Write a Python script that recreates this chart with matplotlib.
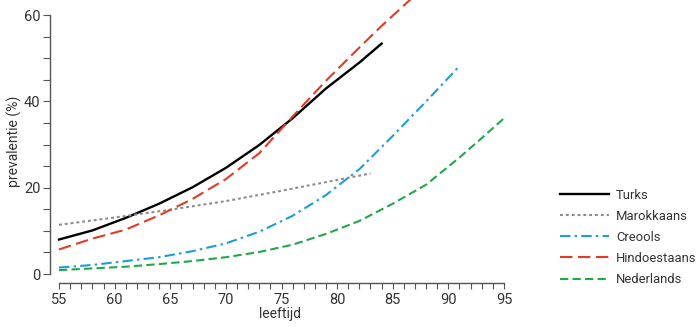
import matplotlib
matplotlib.use("Agg")
from matplotlib import pyplot
from matplotlib.ticker import MultipleLocator

# prevalence (%) by age, per group
turks_age = [55, 58, 61, 64, 67, 70, 73, 76, 79, 82, 84]
turks = [8.0, 10.1, 13.0, 16.3, 20.1, 24.6, 29.9, 36.1, 43.0, 49.0, 53.4]

marokkaans_age = [55, 60, 65, 70, 75, 80, 83]
marokkaans = [11.4, 13.1, 14.9, 16.9, 19.3, 21.8, 23.3]

creools_age = [55, 58, 61, 64, 67, 70, 73, 76, 79, 82, 85, 88, 91]
creools = [1.5, 2.1, 3.0, 3.9, 5.3, 7.1, 9.8, 13.5, 18.3, 24.3, 32.0, 40.0, 48.2]

hindoestaans_age = [55, 58, 61, 64, 67, 70, 73, 76, 79, 82, 84, 87]
hindoestaans = [5.7, 8.2, 10.3, 13.6, 17.4, 22.0, 28.0, 36.5, 44.8, 52.5, 57.5, 64.6]

nederlands_age = [55, 58, 61, 64, 67, 70, 73, 76, 79, 82, 85, 88, 91, 93, 95]
nederlands = [0.9, 1.3, 1.7, 2.3, 3.0, 3.9, 5.1, 6.8, 9.3, 12.3, 16.3, 20.7, 27.0, 31.5, 36.1]

text_color = "#333333"
axis_color = "#555555"

pyplot.rcParams['font.family'] = ['Roboto', 'DejaVu Sans']

fig = pyplot.figure(figsize=(7, 3.27), dpi=100)
ax = fig.add_axes([50/700, 44/327, 460/700, 283/327])

lw = 1.5
ax.plot(turks_age, turks, color="black", lw=1.7, label="Turks")
ax.plot(marokkaans_age, marokkaans, color="#8c8c8c", lw=lw,
        dashes=(1.4, 1.4), label="Marokkaans")
ax.plot(creools_age, creools, color="#1d9ed6", lw=lw,
        dashes=(5, 2, 1.2, 2), label="Creools")
ax.plot(hindoestaans_age, hindoestaans, color="#e03c28", lw=lw,
        dashes=(6, 2.6), label="Hindoestaans")
ax.plot(nederlands_age, nederlands, color="#22a84a", lw=lw,
        dashes=(4, 2), label="Nederlands")

ax.set_xlim(54.19, 95.54)
ax.set_ylim(-2.08, 63.5)

for side in ("top", "right"):
    ax.spines[side].set_visible(False)
ax.spines["left"].set_bounds(0, 60)
ax.spines["bottom"].set_bounds(55, 95)
for side in ("left", "bottom"):
    ax.spines[side].set_color(axis_color)
    ax.spines[side].set_linewidth(1.0)

ax.xaxis.set_major_locator(MultipleLocator(5))
ax.xaxis.set_minor_locator(MultipleLocator(1))
ax.yaxis.set_major_locator(MultipleLocator(20))
ax.yaxis.set_minor_locator(MultipleLocator(5))
ax.tick_params(axis="both", which="both", direction="out", color=axis_color,
               width=0.8, labelcolor=text_color, labelsize=10.5)
ax.tick_params(axis="y", which="both", length=5, pad=2)
ax.tick_params(axis="x", which="both", length=4.5, pad=3)

ax.set_xlabel("leeftijd", color=text_color, fontsize=10, labelpad=0)
ax.set_ylabel("prevalentie (%)", color=text_color, fontsize=10, labelpad=1)

leg = fig.legend(loc="upper left", bbox_to_anchor=(548/700, 1 - 177/327),
                 frameon=False, handlelength=3.8, handletextpad=0.5,
                 labelspacing=0.62, fontsize=9.4)
for t in leg.get_texts():
    t.set_color(text_color)

fig.savefig("out.png", dpi=100, facecolor="white")
